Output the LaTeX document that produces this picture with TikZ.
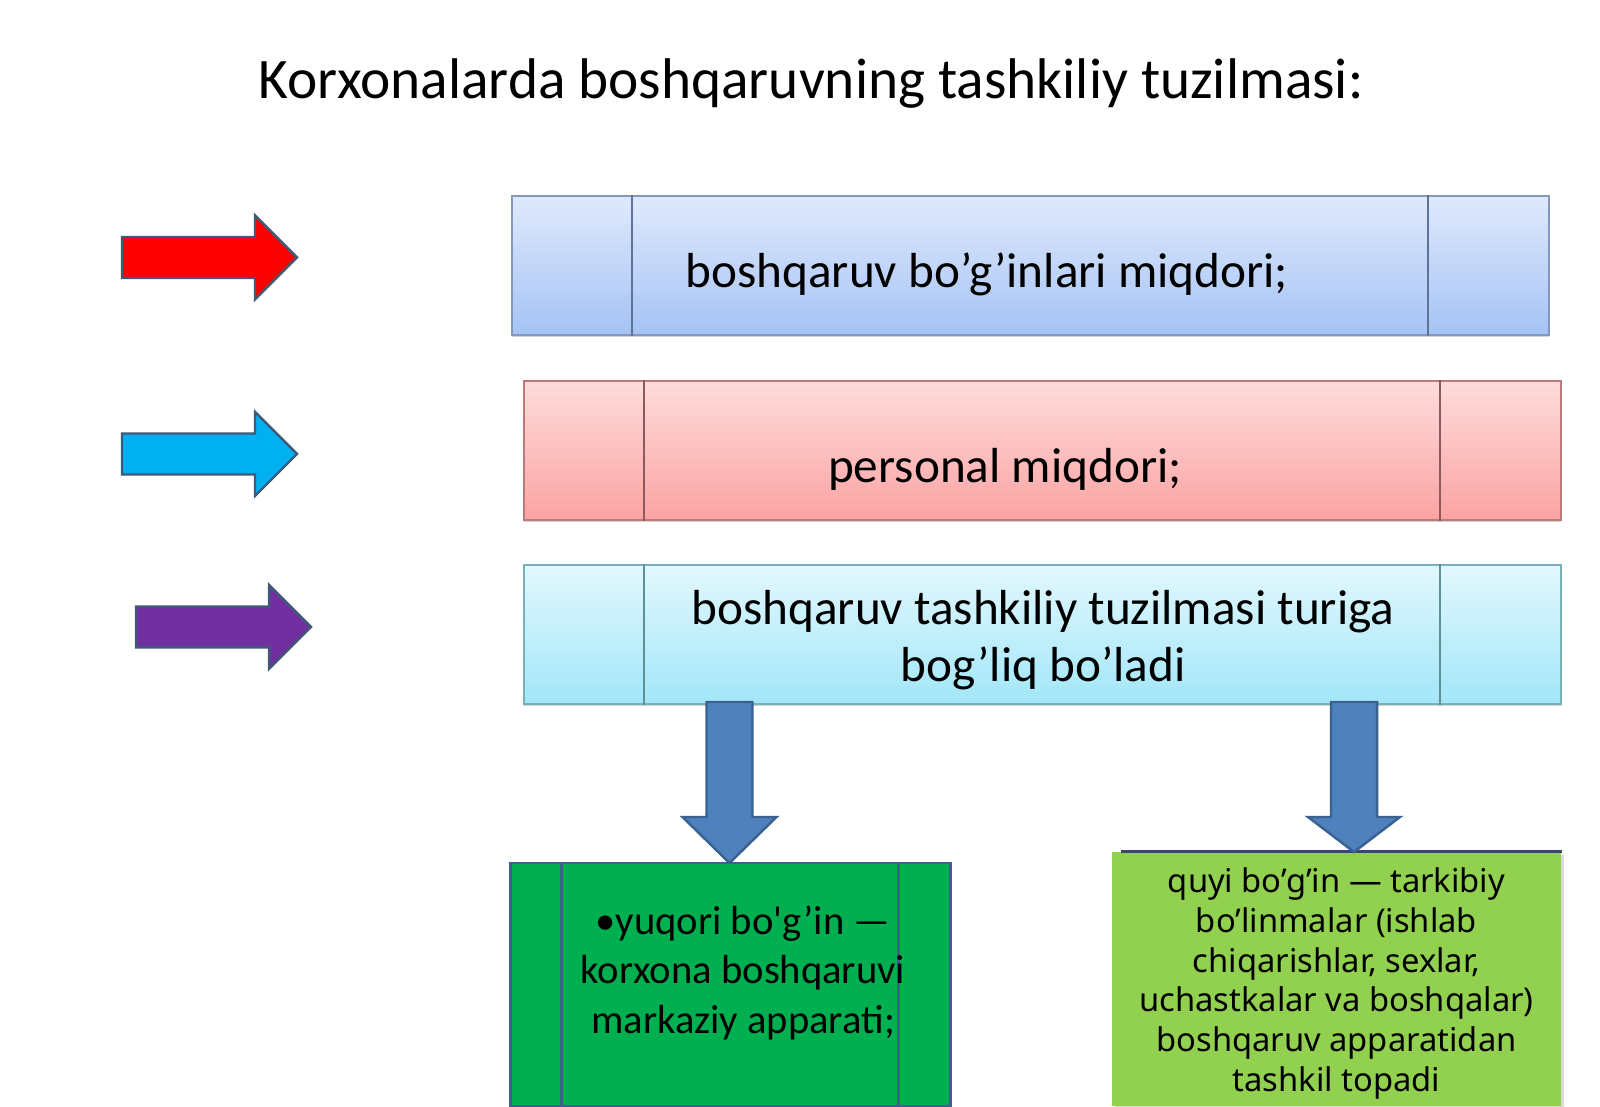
\documentclass[tikz,border=0pt]{standalone}
\usepackage{fontspec}
\setmainfont{Carlito}
\newfontfamily\notosans{Noto Sans}
\usetikzlibrary{calc,shadows}

\definecolor{bluetop}{HTML}{DFE9FC}
\definecolor{bluebot}{HTML}{A5C3F5}
\definecolor{blueedge}{HTML}{8497BD}
\definecolor{bluediv}{HTML}{5F7398}
\definecolor{redtop}{HTML}{FEDCDC}
\definecolor{redbot}{HTML}{FBA3A3}
\definecolor{rededge}{HTML}{BE7A7A}
\definecolor{reddiv}{HTML}{8C5A5A}
\definecolor{cyantop}{HTML}{E2F8FE}
\definecolor{cyanbot}{HTML}{A2E6F8}
\definecolor{cyanedge}{HTML}{7AB0B8}
\definecolor{cyandiv}{HTML}{5E9098}
\definecolor{arrred}{HTML}{FF0000}
\definecolor{arrblue}{HTML}{00B0F0}
\definecolor{arrpurple}{HTML}{7030A0}
\definecolor{arredge}{HTML}{3E5A78}
\definecolor{downfill}{HTML}{4F81BD}
\definecolor{downedge}{HTML}{3B6190}
\definecolor{upperfill}{HTML}{00B050}
\definecolor{upperedge}{HTML}{3D5E8E}
\definecolor{lowerfill}{HTML}{92D050}
\definecolor{loweredge}{HTML}{3A4A60}

\tikzset{
    levelbox/.style={draw, rectangle, inner sep=0pt, minimum width=10.37cm, minimum height=1.39cm, line width=0.6pt,
        drop shadow={shadow xshift=0pt, shadow yshift=-0.7pt, opacity=0.35}},
    bluebox/.style={levelbox, draw=blueedge, top color=bluetop, bottom color=bluebot},
    redbox/.style={levelbox, draw=rededge, top color=redtop, bottom color=redbot},
    cyanbox/.style={levelbox, draw=cyanedge, top color=cyantop, bottom color=cyanbot},
    boxtext/.style={inner sep=0pt, anchor=base, align=center, font=\fontsize{14}{16.2}\selectfont},
    flatarrow/.style={draw=arredge, line width=0.7pt, line join=miter},
    downarrow/.style={draw=downedge, fill=downfill, line width=0.7pt, line join=miter},
}

\begin{document}
\begin{tikzpicture}[x=0.01cm, y=-0.01cm]
    \useasboundingbox (0,0) rectangle (1600,1107);
    \node[inner sep=0pt, anchor=base, font=\fontsize{16.3}{19}\selectfont] (title) at (811,99) {Korxonalarda boshqaruvning tashkiliy tuzilmasi:};

    % three levels
    \node[bluebox] (b1) at (1030.5,265.5) {};
    \node[redbox] (b2) at (1042.5,450.5) {};
    \node[cyanbox] (b3) at (1042.5,634.5) {};
    \foreach \b/\c in {b1/bluediv, b2/reddiv, b3/cyandiv} {
        \draw[\c, line width=0.6pt] ($(\b.north west)+(121,0)$) -- ($(\b.south west)+(121,0)$);
        \draw[\c, line width=0.6pt] ($(\b.north east)+(-122,0)$) -- ($(\b.south east)+(-122,0)$);
    }
    \node[boxtext] (t1) at (987,288) {boshqaruv bo’g’inlari miqdori;};
    \node[boxtext] (t2) at (1005,483) {personal miqdori;};
    \node[boxtext] (t3) at (1043,681.5) {boshqaruv tashkiliy tuzilmasi turiga\\bog’liq bo’ladi};

    % arrows on the left
    \foreach \x/\y/\c in {122/257.5/arrred, 122/454/arrblue, 136/627/arrpurple}
        \draw[flatarrow, fill=\c] (\x,\y-20.5) -- ++(133,0) -- ++(0,-21.5) -- ++(42,42) -- ++(-42,42) -- ++(0,-21.5) -- ++(-133,0) -- cycle;

    % two parts
    \node[draw=upperedge, fill=upperfill, line width=0.8pt, inner sep=0pt, minimum width=4.39cm, minimum height=2.43cm] (g1) at (730.5,984.5) {};
    \draw[upperedge, line width=0.8pt] ($(g1.north west)+(52,0)$) -- ($(g1.south west)+(52,0)$);
    \draw[upperedge, line width=0.8pt] ($(g1.north east)+(-53,0)$) -- ($(g1.south east)+(-53,0)$);
    \node[fill=lowerfill, inner sep=0pt, minimum width=4.49cm, minimum height=2.54cm,
        drop shadow={shadow xshift=0.8pt, shadow yshift=-0.8pt, opacity=0.3}] (g2) at (1336.5,979) {};
    \draw[loweredge, line width=0.8pt] ($(g2.north west)+(10,0)$) -- (g2.north east);
    \node[inner sep=0pt, anchor=base, align=center, font=\fontsize{11.55}{13.94}\selectfont] (t4) at (743,1033) {•yuqori bo\textquotesingle g’in —\\korxona boshqaruvi\\markaziy apparati;};
    \node[inner sep=0pt, anchor=base, align=center, font=\notosans\fontsize{9.3}{11.27}\selectfont] (t5) at (1336.5,1091) {quyi bo’g’in — tarkibiy\\bo’linmalar (ishlab\\chiqarishlar, sexlar,\\uchastkalar va boshqalar)\\boshqaruv apparatidan\\tashkil topadi};

    % from the third level down
    \coordinate (d1) at (729.5,702);
    \coordinate (d2) at (1354,702);
    \draw[downarrow] ($(d1)+(-23,0)$) -- ++(46,0) -- ++(0,115) -- ++(24,0) -- ++(-47,46) -- ++(-47,-46) -- ++(24,0) -- cycle;
    \draw[downarrow] ($(d2)+(-23,0)$) -- ++(46,0) -- ++(0,115) -- ++(23,0) -- ++(-46,35) -- ++(-46,-35) -- ++(23,0) -- cycle;
\end{tikzpicture}
\end{document}
